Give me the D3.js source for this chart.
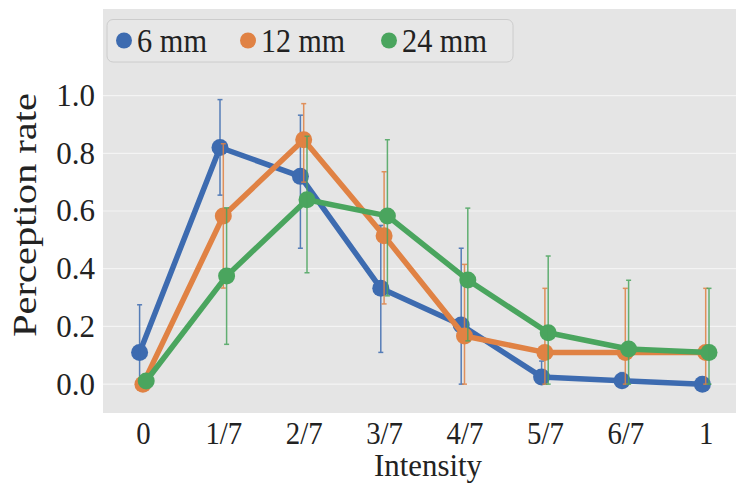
<!DOCTYPE html>
<html>
<head>
<meta charset="utf-8">
<script src="https://cdn.jsdelivr.net/npm/d3@7"></script>
<style>
  body { margin: 0; background: #fff; }
  svg text { font-family: "Liberation Serif", "Times New Roman", serif; fill: #222; }
</style>
</head>
<body>
<svg id="chart" width="736" height="484"></svg>
<script>
// data
const categories = ["0", "1/7", "2/7", "3/7", "4/7", "5/7", "6/7", "1"];
const seriesNames = ["6 mm", "12 mm", "24 mm"];
const colors = ["#3d6bb0", "#e08244", "#4aa55e"];

const mean6 = [0.11, 0.82, 0.72, 0.332, 0.205, 0.025, 0.012, 0.0];
const low6 = [0.0, 0.655, 0.471, 0.11, 0.0, 0.0, 0.0, 0.0];
const high6 = [0.275, 0.986, 0.932, 0.55, 0.471, 0.08, 0.04, 0.0];

const mean12 = [0.0, 0.583, 0.847, 0.514, 0.167, 0.11, 0.11, 0.11];
const low12 = [0.0, 0.333, 0.70, 0.278, 0.0, 0.0, 0.0, 0.0];
const high12 = [0.0, 0.833, 0.972, 0.736, 0.415, 0.332, 0.332, 0.332];

const mean24 = [0.011, 0.375, 0.639, 0.583, 0.361, 0.178, 0.122, 0.11];
const low24 = [0.011, 0.138, 0.386, 0.306, 0.15, 0.0, 0.0, 0.0];
const high24 = [0.011, 0.611, 0.859, 0.847, 0.61, 0.444, 0.36, 0.332];

const yTicks = [0, 0.2, 0.4, 0.6, 0.8, 1.0];

const means = [mean6, mean12, mean24];
const lows = [low6, low12, low24];
const highs = [high6, high12, high24];

const svg = d3.select("#chart");
const plot = { left: 103, top: 9, right: 736, bottom: 413 };

const x = d3.scalePoint().domain(categories).range([142.9, 705.7]);
const dodge = d3.scalePoint().domain(seriesNames).range([-3.3, 3.3]);
const y = d3.scaleLinear().domain([-0.1, 1.3]).range([plot.bottom, plot.top]);

// plot background
svg.append("rect")
  .attr("x", plot.left).attr("y", plot.top)
  .attr("width", plot.right - plot.left).attr("height", plot.bottom - plot.top)
  .attr("fill", "#e5e5e5");

// grid lines
svg.append("g").selectAll("line")
  .data(yTicks)
  .join("line")
  .attr("x1", plot.left).attr("x2", plot.right)
  .attr("y1", d => y(d)).attr("y2", d => y(d))
  .attr("stroke", "#f4f4f4").attr("stroke-width", 1.2);

// axes (labels only)
const yAxis = d3.axisLeft(y).tickValues(yTicks).tickFormat(d3.format(".1f")).tickSize(0).tickPadding(8);
const gy = svg.append("g").attr("transform", `translate(${plot.left},0)`).call(yAxis);
gy.select(".domain").remove();
gy.selectAll("text").attr("font-size", 31).style("font-family", "Liberation Serif").attr("fill", "#222");

const xAxis = d3.axisBottom(x).tickSize(0).tickPadding(9);
const gx = svg.append("g").attr("transform", `translate(0,${plot.bottom})`).call(xAxis);
gx.select(".domain").remove();
gx.selectAll("text").attr("font-size", 31).style("font-family", "Liberation Serif").attr("fill", "#222")
  .each(function () {
    // labels in the picture are a bit narrower than the font
    this.setAttribute("textLength", this.getComputedTextLength() * 0.93);
    this.setAttribute("lengthAdjust", "spacingAndGlyphs");
  });

svg.append("text")
  .attr("x", 428).attr("y", 476)
  .attr("text-anchor", "middle")
  .attr("font-size", 32)
  .attr("textLength", 108).attr("lengthAdjust", "spacingAndGlyphs")
  .text("Intensity");

svg.append("text")
  .attr("transform", "translate(36,215) rotate(-90)")
  .attr("text-anchor", "middle")
  .attr("font-size", 33)
  .attr("textLength", 244).attr("lengthAdjust", "spacingAndGlyphs")
  .text("Perception rate");

// series
const line = d3.line();
seriesNames.forEach((name, s) => {
  const off = dodge(name);
  const pts = categories.map((c, i) => [x(c) + off, y(means[s][i])]);
  const g = svg.append("g");

  g.append("path")
    .attr("d", line(pts))
    .attr("fill", "none")
    .attr("stroke", colors[s])
    .attr("stroke-width", 5.5)
    .attr("stroke-linejoin", "round");

  g.selectAll("circle")
    .data(pts)
    .join("circle")
    .attr("cx", d => d[0]).attr("cy", d => d[1])
    .attr("r", 8.5)
    .attr("fill", colors[s]);

  const bars = categories.map((c, i) => ({ x: x(c) + off, lo: y(lows[s][i]), hi: y(highs[s][i]) }))
    .filter(d => d.hi < d.lo - 0.5);
  const eb = g.append("g").attr("stroke", colors[s]).attr("stroke-width", 1.5).attr("opacity", 0.85);
  eb.selectAll(".v").data(bars).join("line")
    .attr("x1", d => d.x).attr("x2", d => d.x)
    .attr("y1", d => d.lo).attr("y2", d => d.hi);
  eb.selectAll(".t").data(bars).join("line")
    .attr("x1", d => d.x - 2.5).attr("x2", d => d.x + 2.5)
    .attr("y1", d => d.hi).attr("y2", d => d.hi);
  eb.selectAll(".b").data(bars).join("line")
    .attr("x1", d => d.x - 2.5).attr("x2", d => d.x + 2.5)
    .attr("y1", d => d.lo).attr("y2", d => d.lo);
});

// legend
const legend = svg.append("g");
legend.append("rect")
  .attr("x", 107).attr("y", 19.5).attr("width", 406).attr("height", 42.5)
  .attr("rx", 6)
  .attr("fill", "#e7e7e7")
  .attr("stroke", "#cccccc");
const legendX = [124, 248, 389];
const legendW = [70, 84, 85];
seriesNames.forEach((name, s) => {
  legend.append("circle")
    .attr("cx", legendX[s]).attr("cy", 40.5).attr("r", 8)
    .attr("fill", colors[s]);
  legend.append("text")
    .attr("x", legendX[s] + 13).attr("y", 51.5)
    .attr("font-size", 33)
    .attr("textLength", legendW[s]).attr("lengthAdjust", "spacingAndGlyphs")
    .text(name);
});
</script>
</body>
</html>
